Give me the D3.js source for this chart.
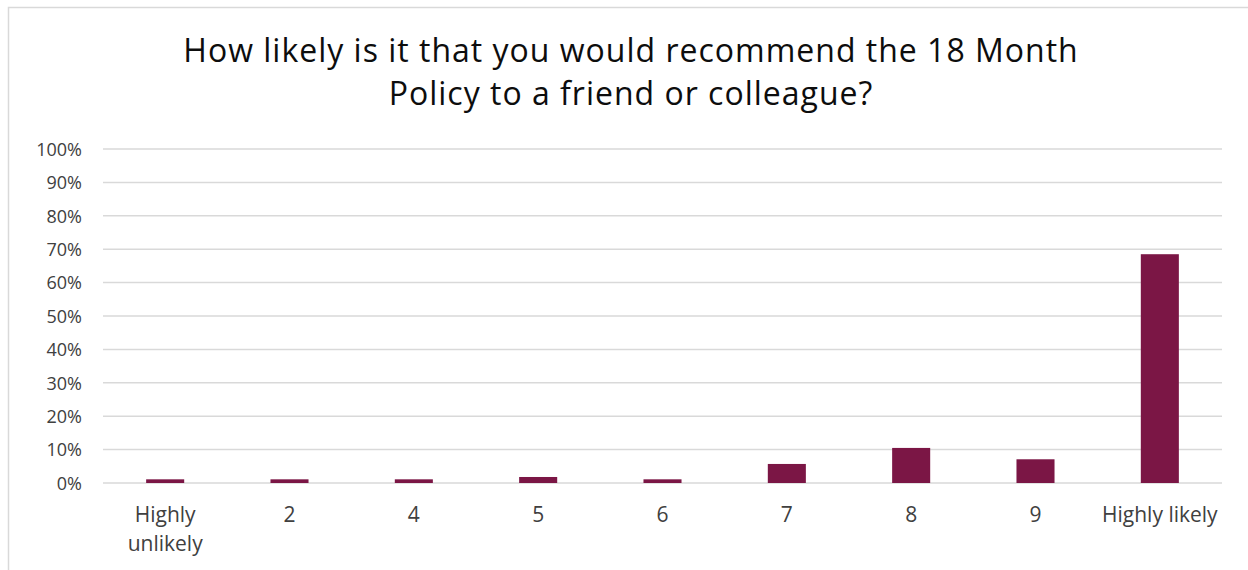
<!DOCTYPE html>
<html><head><meta charset="utf-8">
<script src="https://cdn.jsdelivr.net/npm/d3@7"></script>
<style>
html,body{margin:0;padding:0;background:#fff;}
svg text{font-family:"Open Sans",sans-serif;}
</style></head>
<body><svg id="c" width="1248" height="570"></svg>
<script>
const categories = ["Highly unlikely","2","4","5","6","7","8","9","Highly likely"];
const values = [0.011,0.011,0.011,0.018,0.011,0.057,0.105,0.071,0.685];
const yTicks = [0,0.1,0.2,0.3,0.4,0.5,0.6,0.7,0.8,0.9,1.0];
const titleLines = ["How likely is it that you would recommend the 18 Month","Policy to a friend or colleague?"];

(function(){
const svg = d3.select("#c");
svg.append("rect").attr("x",0).attr("y",0).attr("width",1248).attr("height",570).attr("fill","#fff");
svg.append("rect").attr("x",8.5).attr("y",7.5).attr("width",1300).attr("height",700)
  .attr("fill","none").attr("stroke","#d9d9d9").attr("stroke-width",1.5);

const pl=103, pr=1222, pt=149, pb=483;
const x = d3.scaleBand().domain(categories).range([pl,pr]).paddingInner(0.694).paddingOuter(0.347);
const y = d3.scaleLinear().domain([0,1]).range([pb,pt]);

svg.append("g").selectAll("line").data(yTicks).join("line")
  .attr("x1",pl).attr("x2",pr)
  .attr("y1",d=>y(d)).attr("y2",d=>y(d))
  .attr("stroke","#d9d9d9").attr("stroke-width",1.5);

const ya = svg.append("g").attr("transform",`translate(${pl},0)`)
  .call(d3.axisLeft(y).tickValues(yTicks).tickFormat(d3.format(".0%")).tickSize(0).tickPadding(21));
ya.select(".domain").remove();
ya.selectAll("text").attr("fill","#404040").attr("dy","0.35em")
  .attr("font-family","'Open Sans',sans-serif").attr("font-size",18);

svg.append("g").selectAll("rect").data(values).join("rect")
  .attr("x",(d,i)=>x(categories[i])).attr("width",x.bandwidth())
  .attr("y",d=>y(d)).attr("height",d=>pb-y(d))
  .attr("fill","#7B1645");

const xa = svg.append("g").attr("transform",`translate(0,${pb})`)
  .call(d3.axisBottom(x).tickSize(0).tickPadding(0));
xa.select(".domain").remove();
xa.selectAll("text").text(null).attr("fill","#404040").attr("font-size",21)
  .attr("font-family","'Open Sans',sans-serif").attr("y",0).attr("dy",0)
  .each(function(d){
    const t=d3.select(this);
    let lines=[d];
    if(d==="Highly unlikely") lines=["Highly","unlikely"];
    lines.forEach((l,i)=>t.append("tspan").attr("x",0).attr("y",39+i*29).text(l));
  });

const tt = svg.append("text").attr("text-anchor","middle").attr("fill","#0d0d0d").attr("font-size",32)
  .attr("letter-spacing",1)
  .attr("font-family","'Open Sans',sans-serif");
titleLines.forEach((l,i)=>tt.append("tspan").attr("x",631).attr("y",62+i*43).text(l));
})();
</script></body></html>
